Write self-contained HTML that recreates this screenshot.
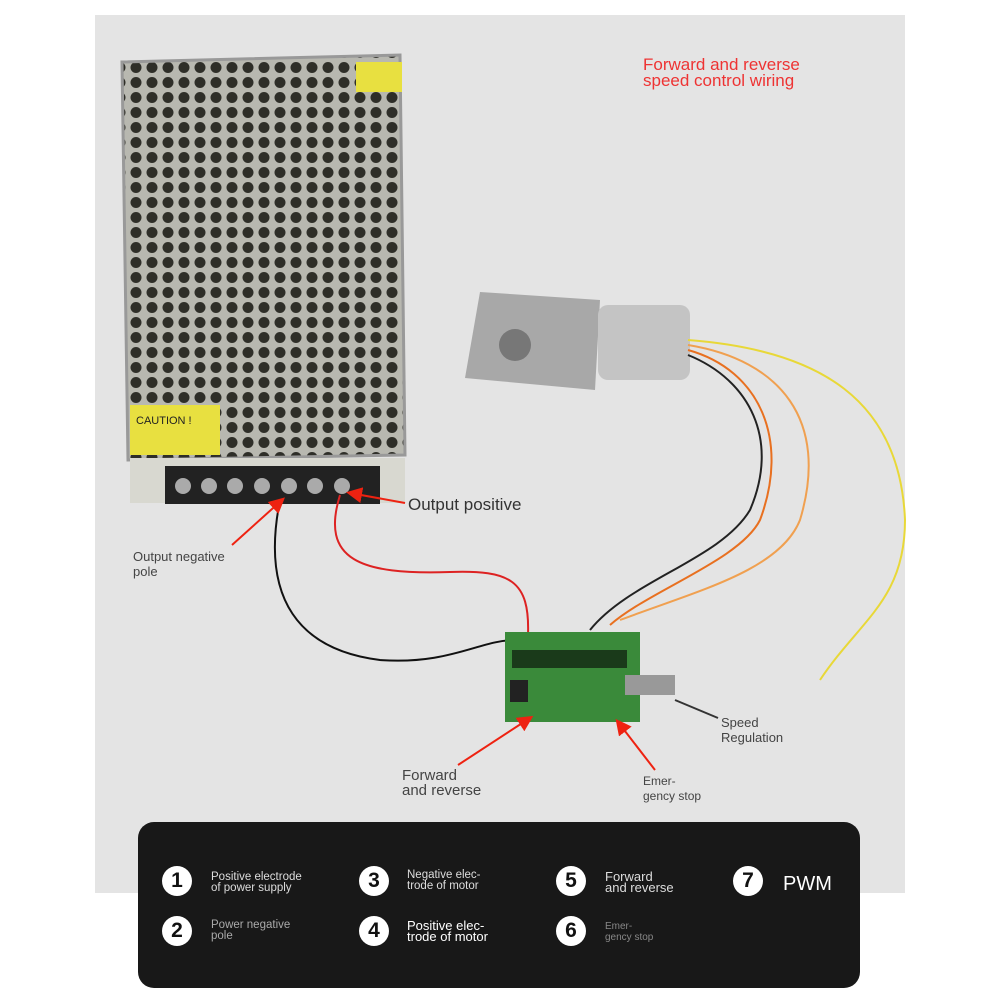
<!DOCTYPE html>
<html><head><style>
body{margin:0;width:1000px;height:1000px;background:#fff;position:relative;overflow:hidden;font-family:"Liberation Sans",sans-serif}
.a{position:absolute}
.lg{position:absolute;left:138px;top:822px;width:722px;height:166px;background:#181818;border-radius:16px}
.c{position:absolute;width:30px;height:30px;border-radius:50%;background:#fff;color:#111;font-weight:bold;font-size:21px;text-align:center;line-height:30px}
.t{position:absolute;color:#ddd;font-size:11.5px;line-height:11px}
</style></head><body>
<div class="a" style="left:95px;top:15px;width:810px;height:878px;background:#e4e4e4"></div>
<svg class="a" style="left:0;top:0" width="1000" height="900">
<defs>
<pattern id="h" width="16" height="15" patternUnits="userSpaceOnUse"><rect width="16" height="15" fill="#b8b8b0"/><circle cx="8" cy="7.5" r="5.5" fill="#2e2e28"/></pattern>
<marker id="ar" markerWidth="8" markerHeight="8" refX="6" refY="4" orient="auto"><path d="M0,0L8,4L0,8z" fill="#e21"/></marker>
</defs>
<polygon points="122,62 400,55 405,455 128,460" fill="url(#h)" stroke="#999" stroke-width="3"/>
<rect x="356" y="62" width="46" height="30" fill="#e8e040"/>
<rect x="130" y="405" width="90" height="50" fill="#e8e040"/>
<text x="136" y="424" font-size="11" fill="#222">CAUTION !</text>
<rect x="130" y="458" width="275" height="45" fill="#d8d8d0"/>
<rect x="165" y="466" width="215" height="38" fill="#222"/>
<g fill="#aaa"><circle cx="183" cy="486" r="8"/><circle cx="209" cy="486" r="8"/><circle cx="235" cy="486" r="8"/><circle cx="262" cy="486" r="8"/><circle cx="289" cy="486" r="8"/><circle cx="315" cy="486" r="8"/><circle cx="342" cy="486" r="8"/></g>
<polygon points="480,292 600,300 595,390 465,378" fill="#a8a8a8"/>
<rect x="598" y="305" width="92" height="75" rx="10" fill="#c4c4c4"/>
<circle cx="515" cy="345" r="16" fill="#777"/>
<g fill="none" stroke-width="2">
<path d="M688,340 C820,350 900,400 905,520 C905,600 860,620 820,680" stroke="#e8d838"/>
<path d="M688,345 C780,360 830,420 800,520 C780,570 700,590 620,620" stroke="#f0a050"/>
<path d="M688,350 C760,370 790,440 760,520 C740,560 650,590 610,625" stroke="#e87020"/>
<path d="M688,355 C750,380 780,440 750,510 C720,560 630,580 590,630" stroke="#222"/>
<path d="M280,500 C260,600 300,650 380,660 C450,665 480,640 515,640" stroke="#111"/>
<path d="M340,495 C320,560 360,575 450,572 C510,570 530,580 528,635" stroke="#d22"/>
</g>
<rect x="505" y="632" width="135" height="90" fill="#3a8a3a"/>
<rect x="512" y="650" width="115" height="18" fill="#1a3a1a"/>
<rect x="625" y="675" width="50" height="20" fill="#999"/>
<rect x="510" y="680" width="18" height="22" fill="#222"/>
<g stroke="#e21" stroke-width="2" marker-end="url(#ar)">
<line x1="232" y1="545" x2="282" y2="500"/>
<line x1="405" y1="503" x2="350" y2="493"/>
<line x1="458" y1="765" x2="530" y2="718"/>
<line x1="655" y1="770" x2="618" y2="722"/>
</g>
<line x1="718" y1="718" x2="675" y2="700" stroke="#333" stroke-width="2"/>
<text x="643" y="70" font-size="17" fill="#e33">Forward and reverse</text>
<text x="643" y="86" font-size="17" fill="#e33">speed control wiring</text>
<text x="408" y="510" font-size="17" fill="#333">Output positive</text>
<text x="133" y="561" font-size="13" fill="#444">Output negative</text>
<text x="133" y="576" font-size="13" fill="#444">pole</text>
<text x="402" y="780" font-size="15" fill="#444">Forward</text>
<text x="402" y="795" font-size="15" fill="#444">and reverse</text>
<text x="643" y="785" font-size="12" fill="#444">Emer-</text>
<text x="643" y="800" font-size="12" fill="#444">gency stop</text>
<text x="721" y="727" font-size="13" fill="#444">Speed</text>
<text x="721" y="742" font-size="13" fill="#444">Regulation</text>
</svg>
<div class="lg">
<div class="c" style="left:24px;top:44px">1</div><div class="t" style="left:73px;top:50px">Positive electrode<br>of power supply</div>
<div class="c" style="left:24px;top:94px">2</div><div class="t" style="left:73px;top:98px;color:#aaa">Power negative<br>pole</div>
<div class="c" style="left:221px;top:44px">3</div><div class="t" style="left:269px;top:48px">Negative elec-<br>trode of motor</div>
<div class="c" style="left:221px;top:94px">4</div><div class="t" style="left:269px;top:98px;font-size:13px;color:#fff">Positive elec-<br>trode of motor</div>
<div class="c" style="left:418px;top:44px">5</div><div class="t" style="left:467px;top:49px;font-size:13px">Forward<br>and reverse</div>
<div class="c" style="left:418px;top:94px">6</div><div class="t" style="left:467px;top:99px;font-size:10px;color:#888">Emer-<br>gency stop</div>
<div class="c" style="left:595px;top:44px">7</div><div class="t" style="left:645px;top:52px;font-size:20px;color:#fff;line-height:20px">PWM</div>
</div>
</body></html>
